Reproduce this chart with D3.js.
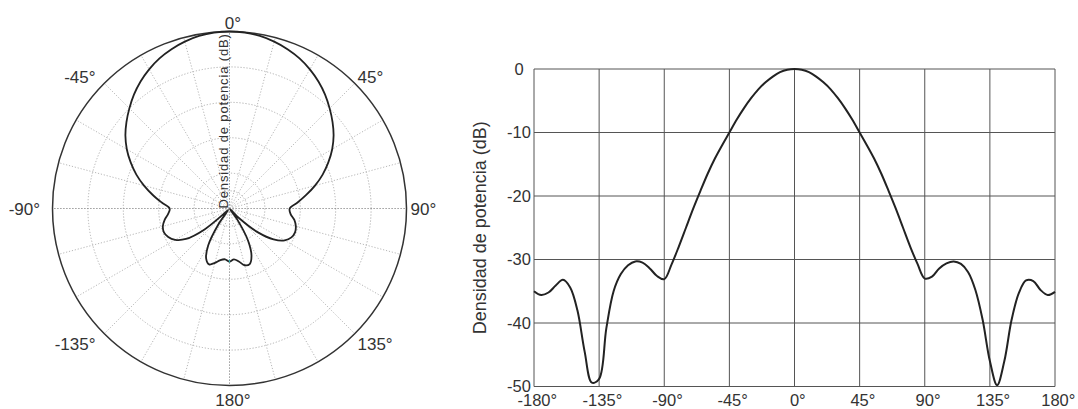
<!DOCTYPE html>
<html><head><meta charset="utf-8">
<script src="https://cdn.jsdelivr.net/npm/d3@7/dist/d3.min.js"></script>
<style>
body{margin:0;background:#fff}
svg{display:block}
text{font-family:"Liberation Sans",Arial,Helvetica,sans-serif;fill:#333}
</style>
</head><body>
<svg id="chart" width="1078" height="409"></svg>
<script>
// ---------- data ----------
const angles = [-180,-175,-170,-165,-160,-155,-150,-145,-140,-135,-130,-125,-120,-115,-110,-105,-100,-95,-90,
  -85,-80,-75,-70,-65,-60,-55,-50,-45,-40,-35,-30,-25,-20,-15,-10,-5,0,
  5,10,15,20,25,30,35,40,45,50,55,60,65,70,75,80,85,90,
  95,100,105,110,115,120,125,130,135,140,145,150,155,160,165,170,175,180];
const powerDb = [-35.0,-35.6,-35.2,-34.1,-33.2,-34.4,-38.0,-44.5,-49.4,-48.8,-40.8,-35.0,-32.3,-30.9,-30.3,-30.5,-31.4,-32.6,-33.1,
  -30.8,-28.0,-25.0,-22.0,-19.2,-16.5,-14.1,-12.0,-10.0,-8.0,-6.2,-4.6,-3.2,-2.1,-1.2,-0.5,-0.12,0,
  -0.12,-0.5,-1.2,-2.1,-3.2,-4.6,-6.2,-8.0,-10.0,-12.0,-14.1,-16.5,-19.2,-22.0,-25.0,-28.0,-30.7,-33.0,
  -32.7,-31.4,-30.6,-30.3,-30.7,-32.0,-34.8,-39.5,-46.0,-49.8,-46.0,-39.5,-35.3,-33.3,-33.4,-34.8,-35.6,-35.1];
const xTickValues = [-180,-135,-90,-45,0,45,90,135,180];
const yTickValues = [0,-10,-20,-30,-40,-50];
const polarLabelAngles = [0,45,90,135,180,-135,-90,-45];
const polarRingValues = [-45,-40,-30,-20,-10];
const polarSpokeAngles = [0,15,30,45,60,75,90,105,120,135,150,165,180,195,210,225,240,255,270,285,300,315,330,345];
const yTitle = "Densidad de potencia (dB)";
const strayMark = {angle:180, db:-35.3};

const data = angles.map((a,i)=>({a, v: powerDb[i]}));
const svg = d3.select("#chart");

// ---------- polar chart ----------
const cx = 229.5, cy = 208.5, R = 177;
const rScale = d3.scaleLinear().domain([-50,0]).range([0,R]).clamp(true);
const pg = svg.append("g").attr("transform",`translate(${cx},${cy})`);

pg.selectAll("circle.ring").data(polarRingValues).join("circle")
  .attr("class","ring").attr("r",d=>rScale(d))
  .attr("fill","none").attr("stroke","#b0b0b0").attr("stroke-width",1)
  .attr("stroke-dasharray","1.2,1.8");

pg.selectAll("line.spoke").data(polarSpokeAngles).join("line")
  .attr("class","spoke")
  .attr("x1",0).attr("y1",0)
  .attr("x2",d=>R*Math.sin(d*Math.PI/180))
  .attr("y2",d=>-R*Math.cos(d*Math.PI/180))
  .attr("stroke",d=> d%90===0 ? "#808080" : "#b8b8b8")
  .attr("stroke-width",1)
  .attr("stroke-dasharray","1.2,1.8");

pg.append("circle").attr("r",R).attr("fill","none")
  .attr("stroke","#333").attr("stroke-width",1.5);

const radial = d3.lineRadial()
  .angle(d=>d.a*Math.PI/180)
  .radius(d=>rScale(d.v))
  .curve(d3.curveCatmullRomClosed.alpha(0.5));
pg.append("path").datum(data.slice(0,data.length-1))
  .attr("d",radial).attr("fill","none")
  .attr("stroke","#222").attr("stroke-width",1.8);

// stray teal tick
{
  const rr = rScale(strayMark.db), ang = strayMark.angle*Math.PI/180;
  pg.append("line")
    .attr("x1",rr*Math.sin(ang)).attr("y1",-rr*Math.cos(ang)-1)
    .attr("x2",rr*Math.sin(ang)).attr("y2",-rr*Math.cos(ang)+2)
    .attr("stroke","#3cb0b0").attr("stroke-width",1.2);
}

pg.selectAll("text.plab").data(polarLabelAngles).join("text")
  .attr("class","plab")
  .each(function(a){
    const s = Math.sin(a*Math.PI/180), c = Math.cos(a*Math.PI/180);
    const gx = s>0 ? 4 : 12.5, gy = c>0 ? 3 : 8;
    const anchor = s>0.01 ? "start" : (s<-0.01 ? "end" : "middle");
    d3.select(this)
      .attr("x",(R+gx)*s).attr("y",-(R+gy)*c)
      .attr("text-anchor",anchor)
      .attr("dx", anchor==="middle" ? "0.2em" : 0)
      .attr("dy",(0.36*(1-c)).toFixed(3)+"em")
      .attr("font-size",17)
      .text(a+"°");
  });

pg.append("text")
  .attr("transform","translate(-1.5,0) rotate(-90)")
  .attr("text-anchor","start")
  .attr("font-size",13)
  .attr("letter-spacing","0.85px")
  .text(yTitle);

// ---------- cartesian chart ----------
const plotLeft = 534, plotRight = 1055, plotTop = 69, plotBottom = 386.5;
const x = d3.scaleLinear().domain([-180,180]).range([plotLeft,plotRight]);
const y = d3.scaleLinear().domain([-50,0]).range([plotBottom,plotTop]);
const cg = svg.append("g");

cg.selectAll("line.vg").data(xTickValues).join("line")
  .attr("class","vg")
  .attr("x1",d=>x(d)).attr("x2",d=>x(d))
  .attr("y1",plotTop).attr("y2",plotBottom)
  .attr("stroke","#555").attr("stroke-width",1);
cg.selectAll("line.hg").data(yTickValues).join("line")
  .attr("class","hg")
  .attr("y1",d=>y(d)).attr("y2",d=>y(d))
  .attr("x1",plotLeft).attr("x2",plotRight)
  .attr("stroke","#555").attr("stroke-width",1);

const line = d3.line().x(d=>x(d.a)).y(d=>y(d.v))
  .curve(d3.curveCatmullRom.alpha(0.5));
cg.append("path").datum(data).attr("d",line)
  .attr("fill","none").attr("stroke","#222").attr("stroke-width",2);

cg.selectAll("text.xt").data(xTickValues).join("text")
  .attr("class","xt")
  .attr("x",d=>x(d)).attr("y",plotBottom+19)
  .attr("dx","0.2em")
  .attr("text-anchor","middle").attr("font-size",16.5)
  .text(d=>d+"°");

cg.selectAll("text.yt").data(yTickValues).join("text")
  .attr("class","yt")
  .attr("x",plotLeft-15).attr("y",d=>y(d))
  .attr("dy","0.36em")
  .attr("text-anchor","middle").attr("font-size",16.5)
  .text(d=>d);

cg.append("text")
  .attr("transform",`translate(486,${(plotTop+plotBottom)/2}) rotate(-90)`)
  .attr("text-anchor","middle").attr("font-size",18)
  .text(yTitle);
</script>
</body></html>
